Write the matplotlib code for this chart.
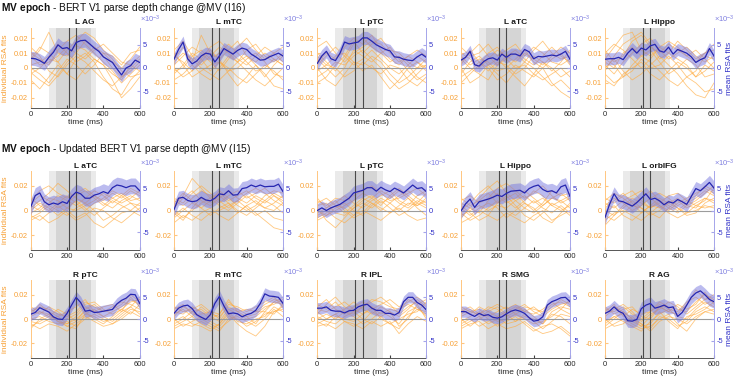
import numpy as np
import matplotlib.pyplot as plt
from matplotlib.ticker import FuncFormatter

plt.rcParams['font.family'] = ['Liberation Sans', 'DejaVu Sans']
plt.rcParams['mathtext.fontset'] = 'custom'
plt.rcParams['mathtext.rm'] = 'Liberation Sans'
plt.rcParams['mathtext.bf'] = 'Liberation Sans:bold'
plt.rcParams['axes.unicode_minus'] = False

# time axes (ms)
t_mean = np.arange(0, 601, 25)
t_ind = np.arange(0, 601, 50)

row_titles = [r'$\mathbf{MV\ epoch}$ - BERT V1 parse depth change @MV (I16)',
              r'$\mathbf{MV\ epoch}$ - Updated BERT V1 parse depth @MV (I15)',
              None]
names_r1 = ['L AG', 'L mTC', 'L pTC', 'L aTC', 'L Hippo']
names_r2 = ['L aTC', 'L mTC', 'L pTC', 'L Hippo', 'L orbIFG']
names_r3 = ['R pTC', 'R mTC', 'R IPL', 'R SMG', 'R AG']

# mean RSA fits (x1e-3), every 25 ms
mean_r1_lag = [2.1, 2.0, 1.6, 1.0, 2.3, 3.4, 5.0, 4.2, 4.4, 3.7, 5.5, 5.9, 6.0, 5.2, 4.3, 3.6, 2.4, 1.8, 1.2, -0.2, -1.5, 0.0, 0.5, 1.7, 1.2]
mean_r1_lmtc = [1.9, 4.0, 5.6, 2.0, 0.9, 1.5, 2.6, 3.2, 3.0, 1.3, 2.6, 4.2, 3.6, 3.0, 3.8, 4.3, 4.0, 3.0, 2.4, 1.7, 1.8, 2.4, 2.8, 3.2, 2.6]
mean_r1_lptc = [1.0, 2.6, 3.6, 2.0, 1.6, 3.2, 5.6, 5.2, 5.4, 5.6, 6.5, 6.5, 5.8, 5.0, 4.5, 4.0, 3.7, 2.4, 2.3, 1.9, 1.7, 1.6, 2.4, 3.0, 2.3]
mean_r1_latc = [1.7, 2.3, 3.6, 0.7, 0.4, 1.4, 2.0, 2.2, 1.7, 3.0, 2.3, 3.0, 3.0, 2.6, 4.0, 3.5, 2.0, 2.5, 2.4, 2.6, 2.8, 2.6, 3.0, 3.6, 1.9]
mean_r1_lhippo = [1.9, 2.0, 2.0, 2.3, 1.8, 3.2, 4.2, 3.2, 4.3, 3.9, 4.8, 5.1, 3.7, 3.4, 4.5, 3.0, 4.0, 3.6, 3.2, 2.4, 1.2, 1.8, 2.2, 4.2, 2.6]

mean_r2_latc = [0.8, 3.4, 4.0, 2.0, 1.3, 1.7, 1.4, 2.0, 1.6, 3.2, 4.2, 3.8, 2.8, 2.8, 3.5, 3.8, 4.3, 3.9, 5.2, 5.8, 5.6, 5.2, 5.6, 5.6, 4.5]
mean_r2_lmtc = [0.2, 2.8, 3.0, 2.3, 2.0, 2.2, 3.0, 2.4, 2.2, 2.8, 3.8, 3.6, 4.5, 3.5, 3.6, 5.0, 5.2, 5.8, 5.4, 5.8, 5.4, 5.5, 5.5, 6.0, 4.3]
mean_r2_lptc = [0.0, 0.6, 0.0, 0.6, 1.0, 1.4, 2.1, 2.8, 4.0, 4.3, 4.6, 5.2, 5.2, 4.4, 5.3, 4.7, 4.3, 5.1, 4.6, 4.0, 4.9, 5.8, 5.0, 5.2, 4.3]
mean_r2_lhippo = [-0.1, 1.5, 2.6, 0.7, 2.0, 2.3, 2.6, 3.0, 3.5, 3.2, 3.9, 4.4, 4.5, 4.6, 4.0, 5.0, 5.5, 5.8, 4.8, 4.3, 4.5, 4.0, 5.4, 5.8, 3.2]
mean_r2_lorbifg = [-1.6, 1.4, 3.8, 2.2, 2.0, 1.5, 1.0, 1.8, 2.8, 3.8, 2.5, 2.8, 2.2, 1.3, 2.0, 1.7, 2.5, 2.0, 1.4, 3.2, 5.0, 4.5, 5.4, 6.4, 5.1]

mean_r3_rptc = [1.1, 1.5, 2.6, 2.1, 1.6, 0.5, 0.0, -0.1, 1.3, 3.2, 5.0, 3.8, 1.8, 2.0, 1.5, 1.6, 1.8, 2.0, 2.2, 3.5, 4.3, 4.8, 5.7, 5.6, 3.6]
mean_r3_rmtc = [1.3, 2.5, 3.0, 3.2, 2.4, 1.0, 0.4, -0.1, 1.0, 3.6, 5.2, 3.0, 1.2, 1.4, 1.2, 0.5, 1.0, 1.3, 2.0, 3.6, 5.8, 5.3, 5.2, 5.0, 3.6]
mean_r3_ripl = [2.5, 2.5, 2.8, 2.0, 1.8, 1.8, 1.4, 1.9, 2.0, 2.8, 3.2, 3.4, 2.5, 2.0, 2.0, 1.3, 1.3, 0.9, 1.5, 4.0, 5.0, 5.0, 3.8, 3.2, 2.1]
mean_r3_rsmg = [1.7, 1.7, 1.1, 0.6, 1.3, 0.8, 1.0, 0.4, 0.2, 0.5, 1.2, 1.8, 2.1, 1.8, 1.3, 0.3, -0.5, -0.3, 0.5, 3.2, 4.0, 4.4, 4.9, 5.0, 4.0]
mean_r3_rag = [1.3, 1.8, 2.8, 1.8, 1.3, -0.4, -0.5, -0.1, 2.4, 3.2, 3.6, 2.5, 2.8, 3.2, 2.6, 2.8, 0.6, 1.5, 3.2, 5.0, 6.0, 6.5, 5.6, 4.5, 4.0]

# standard error of the mean (x1e-3), one per panel
sem_r1 = [1.5, 1.3, 1.4, 1.3, 1.3]
sem_r2 = [1.8, 1.6, 1.6, 1.7, 1.6]
sem_r3 = [1.4, 1.4, 1.3, 1.3, 1.5]

# individual RSA fits (x1e-3), every 50 ms
ind_r1_lag = [
    [5, 12, 24, 10, 8, 15, 12, 6, 2, -4, -8, 2, 8],
    [-3, -8, -12, -5, 4, 10, 18, 14, 8, 0, -6, -2, 4],
    [10, 6, 2, 12, 18, 22, 16, 10, 4, -2, -10, -4, 2],
    [-8, -14, -6, 2, -4, 6, 10, 4, -6, -14, -18, -8, -2],
    [2, 4, 8, 16, 10, 4, 8, 14, 10, 4, 0, 6, 14],
    [14, 8, -2, -6, 2, 8, 4, -2, -8, -12, -6, 0, 6],
    [-4, 0, 6, 4, 12, 18, 24, 20, 12, 6, -2, -6, -4],
    [6, 14, 10, 4, -4, -8, 0, 6, 2, -8, -20, -14, -6],
    [0, -4, -10, -2, 6, 2, -4, 2, 10, 8, 2, 10, 12],
    [8, 2, 4, 8, 14, 10, 6, 12, 16, 10, 4, 2, -2],
]
ind_r1_lmtc = [
    [6, 14, 4, 22, 10, 6, 12, 18, 8, 4, 10, 6, 2],
    [-4, 2, 10, 6, -2, 4, 0, -6, -10, -4, 2, -2, -8],
    [12, 18, 8, 2, 8, 14, 10, 4, 12, 16, 8, 4, 10],
    [0, -6, -2, 4, 12, 6, -4, -12, -6, 2, -4, -12, -14],
    [2, 8, 14, 10, 4, -2, 6, 14, 20, 12, 6, 10, 14],
    [-8, -4, 2, -4, -8, 0, 8, 4, -2, -8, -12, -6, 0],
    [8, 4, -2, 6, 14, 18, 12, 6, 2, 8, 14, 10, 4],
    [4, 10, 6, 0, -4, -8, -2, 4, 8, 2, -6, 2, 8],
    [-2, 0, 8, 12, 6, 10, 16, 10, 4, -2, 0, 6, 2],
    [10, 2, -6, -2, 2, 4, -2, 0, 6, 10, 4, -4, -6],
]
ind_r1_lptc = [
    [4, 10, 6, 14, 20, 16, 22, 12, 6, 2, 8, 4, 0],
    [-6, -2, 4, 2, 8, 12, 6, 0, -8, -14, -10, -4, 2],
    [10, 4, -2, 6, 16, 20, 14, 10, 4, 8, 2, -6, -10],
    [0, -8, -12, -4, 4, 2, 8, 4, -4, -10, -6, 0, 6],
    [14, 18, 10, 4, 10, 14, 18, 16, 10, 4, 8, 12, 8],
    [-2, 2, 8, 10, 4, -2, 2, -6, -14, -8, 0, 4, -2],
    [6, 0, -6, 0, 12, 8, 4, 10, 14, 6, -2, -8, -4],
    [-10, -6, 2, 8, 2, 6, 12, 6, 0, -4, 2, 8, 4],
    [2, 8, 14, 8, 18, 10, 16, 20, 12, 10, 4, 0, 2],
    [8, 2, 0, -6, -2, 4, 0, -4, 2, 0, -8, -12, -6],
]
ind_r1_latc = [
    [4, 10, 16, 8, 2, 6, 10, 4, 12, 18, 10, 6, 8],
    [-6, -2, 4, 0, -8, -4, 2, -2, -6, 0, -10, -16, -20],
    [10, 6, 0, 6, 12, 8, 4, 10, 6, 2, 8, 14, 10],
    [0, -10, -6, 2, 6, 0, -6, -12, -4, 4, 0, -6, -2],
    [14, 8, 10, 16, 8, 12, 16, 8, 14, 10, 4, 2, 6],
    [-4, 4, 8, 2, -4, -10, -2, 4, 0, -6, -12, -8, -14],
    [6, 0, -4, -8, 2, 8, 12, 6, 2, 8, 14, 8, 4],
    [2, 12, 4, -2, 4, 2, -4, 0, 8, 4, -2, 4, 12],
    [-10, -4, 2, 10, 14, 6, 0, 2, -4, -8, -4, 0, -6],
    [8, 2, 6, 4, -2, 0, 6, 12, 4, 0, 6, 10, 2],
]
ind_r1_lhippo = [
    [6, 14, 22, 24, 12, 8, 14, 10, 6, 2, -6, -2, 4],
    [-4, -10, -6, 2, 8, 4, -2, -8, -12, -6, -10, -16, -14],
    [12, 4, 8, 18, 22, 14, 10, 16, 12, 8, 4, 10, 16],
    [0, 6, -2, -8, -4, 2, 8, 2, -4, -12, -18, -20, -10],
    [2, -4, 4, 10, 16, 20, 12, 6, 10, 14, 8, 4, 8],
    [-8, -12, -4, 0, 4, -4, -8, -2, 4, 0, -6, 2, -2],
    [10, 16, 12, 6, 0, 6, 14, 18, 14, 8, 12, 6, 0],
    [4, 0, 10, 14, 8, 12, 4, -4, 0, 6, 2, -6, -4],
    [-2, 8, 16, 20, 24, 16, 6, 10, 18, 12, 6, 10, 12],
    [6, 2, -6, -2, 6, 0, 2, 8, 2, -6, -2, 8, 6],
]

ind_r2_latc = [
    [2, 8, 14, 22, 16, 10, 6, 12, 8, 14, 10, 16, 12],
    [-6, -2, 4, 0, -4, 2, 6, 0, -8, -4, 2, 6, 4],
    [6, 12, 8, 2, 6, 12, 16, 10, 4, 10, 14, 8, 10],
    [-8, -4, -10, -6, 0, -6, -2, -10, -14, -8, -2, 0, -4],
    [4, 0, 6, 12, 8, 4, 10, 16, 12, 6, 12, 18, 14],
    [0, 6, 2, -4, 2, 8, 2, -4, 2, 8, 4, 0, 6],
    [8, 16, 20, 14, 10, 14, 18, 12, 6, 2, 8, 12, 8],
    [-4, -8, -2, 4, -2, -8, -4, 2, 0, -6, -10, -4, 2],
    [10, 4, 0, 6, 12, 6, 0, 6, 10, 16, 12, 6, 0],
    [-2, 2, 10, 8, 2, 0, 4, 8, 14, 10, 6, 10, 16],
]
ind_r2_lmtc = [
    [4, 12, 26, 18, 10, 14, 8, 12, 16, 10, 6, 12, 8],
    [-6, 0, 6, 2, -4, 2, 6, 0, -4, 2, 8, 4, -2],
    [8, 4, 10, 16, 12, 6, 12, 16, 10, 14, 18, 12, 6],
    [-10, -4, -8, -2, 2, -4, -8, -2, 4, -2, -8, -14, -16],
    [2, 10, 16, 8, 4, 10, 16, 10, 6, 12, 8, 14, 10],
    [0, -6, 0, 6, 10, 4, 0, 6, 12, 6, 2, 6, 12],
    [6, 14, 8, 2, 8, 16, 10, 4, 0, 4, 12, 16, 14],
    [-4, 2, -4, -8, -2, 0, 4, 8, 2, -4, 0, -6, -8],
    [10, 6, 14, 20, 14, 8, 2, 8, 14, 18, 14, 8, 4],
    [-2, -8, 2, 10, 6, 12, 6, -2, 4, 8, 2, 0, 6],
]
ind_r2_lptc = [
    [2, -8, -14, -6, 2, 8, 12, 6, 10, 16, 10, 4, 8],
    [-6, -2, 4, 2, -4, 4, 10, 16, 12, 6, 2, 8, 4],
    [6, 10, 4, -2, 4, 10, 6, 0, 6, 12, 16, 10, 6],
    [-4, 0, -6, -10, -4, 0, -4, -8, -2, 2, -4, -8, -6],
    [8, 4, 10, 8, 12, 16, 20, 14, 8, 10, 14, 18, 12],
    [0, -4, 2, 6, 0, -4, 4, 10, 6, 0, 6, 4, 10],
    [-8, -4, 0, 4, 8, 14, 10, 4, 12, 18, 12, 6, 2],
    [4, 6, -2, -4, 2, 6, 2, 8, 2, -4, 0, 6, 14],
    [10, 2, 6, 12, 6, 2, 8, 12, 16, 8, 4, 12, 16],
    [-2, 2, 8, 0, -6, -2, 6, 2, -2, 4, 10, 2, -4],
]
ind_r2_lhippo = [
    [-6, 2, 10, 18, 24, 14, 8, 12, 6, 10, 4, 8, 12],
    [4, -2, -8, -4, 6, 12, 4, -4, -8, -2, 6, 2, -4],
    [8, 12, 6, 10, 18, 22, 16, 10, 14, 20, 12, 6, 10],
    [-10, -6, 0, -4, -8, -2, -6, -10, -4, 0, -8, -4, 0],
    [0, 6, 14, 20, 12, 6, 10, 16, 10, 4, 10, 14, 8],
    [2, -4, 2, 6, 2, -6, 0, 6, 2, -6, -10, -2, 6],
    [6, 2, -2, 8, 14, 8, 2, 8, 16, 12, 4, 0, 4],
    [-4, 0, 4, 0, 4, 2, 8, 2, -2, 4, 10, 8, 2],
    [10, 4, 8, 14, 6, 10, 14, 6, 0, 6, 16, 12, 14],
    [-2, -8, -4, 2, 8, 0, -4, 2, 8, 2, -2, 4, -2],
]
ind_r2_lorbifg = [
    [-12, -4, 4, 10, 6, 2, 8, 4, 0, 6, 10, 16, 12],
    [2, 8, 14, 6, -2, 4, 10, 6, 2, -2, 4, 8, 18],
    [-4, -8, -2, 4, 2, -4, 0, 6, 10, 4, 2, 10, 6],
    [6, 2, 8, 12, 16, 10, 4, 0, 6, 10, 14, 18, 14],
    [-8, -2, 0, -4, -8, -2, 4, -2, -6, -2, 0, 4, 2],
    [4, 10, 6, 0, 4, 10, 14, 10, 4, 8, 12, 20, 16],
    [0, -4, 2, 8, 2, -2, -6, 2, 8, 2, 6, 10, 8],
    [8, 14, 10, 4, 10, 16, 8, 2, -2, 4, 8, 14, 20],
    [-2, 4, -4, -8, -2, 4, 2, 8, 2, -4, -2, 6, 10],
    [10, 6, 12, 16, 8, 2, 6, 12, 14, 8, 4, 2, 4],
]

ind_r3_rptc = [
    [2, 6, 4, -2, -4, 2, 10, 6, 2, 6, 10, 16, 12],
    [-6, -2, 2, 0, -6, -8, 4, 8, 2, -2, 4, 10, 18],
    [6, 10, 8, 4, 2, 6, 14, 10, 6, 10, 14, 12, 8],
    [-4, -8, -4, -6, -10, -4, 2, -2, -6, -4, 0, 6, 2],
    [8, 4, 10, 6, 0, 4, 12, 14, 8, 4, 8, 14, 16],
    [0, 2, -2, -4, -2, -6, 0, 4, 0, -4, 2, 8, 6],
    [4, 12, 6, 2, 6, 10, 16, 6, 10, 12, 6, 18, 10],
    [-2, -4, 0, 2, -4, 0, 6, 0, -4, 2, 8, 4, 12],
    [10, 6, 2, 8, 4, -2, 8, 12, 6, 8, 12, 20, 14],
    [-8, 0, 4, -2, -6, -2, 4, 2, -2, 0, 6, 10, 4],
]
ind_r3_rmtc = [
    [2, 10, 6, 8, 2, -2, 8, 4, 0, 2, 8, 14, 12],
    [-6, -2, 2, -4, -8, -4, 4, -4, -10, -14, -6, 6, 8],
    [6, 4, 10, 6, 0, 4, 14, 8, 4, 6, 12, 16, 14],
    [-8, -4, -6, -2, -6, -10, 0, 2, -2, -6, 0, 8, 2],
    [4, 8, 2, 10, 4, 2, 10, 6, 2, 4, 10, 12, 16],
    [0, -6, -2, 2, -2, -6, 2, 0, -6, -2, 4, 6, 10],
    [10, 6, 8, 12, 6, 0, 12, 10, 6, 10, 14, 18, 10],
    [-2, 2, -4, -6, -10, -4, 6, -2, -4, 0, 2, 10, 6],
    [8, 12, 4, 4, 6, 4, 16, 6, 8, 6, 6, 14, 18],
    [-4, 0, 6, 0, -4, -8, -2, 4, 2, -4, 6, 4, 12],
]
ind_r3_ripl = [
    [4, 12, 18, 10, 6, 10, 14, 18, 12, 4, 10, 14, 8],
    [-4, 0, 4, -2, -6, -2, 6, 2, -4, -8, 2, 8, 4],
    [8, 6, 10, 14, 8, 4, 8, 12, 16, 10, 14, 18, 12],
    [-6, -4, -8, -2, -4, -8, -2, -6, -2, -12, -4, 2, -2],
    [10, 16, 8, 4, 10, 14, 10, 4, 8, 6, 16, 12, 16],
    [0, 4, 0, 6, 2, -4, 0, 6, 2, -4, 6, 10, 2],
    [6, 0, 4, 8, 14, 8, 4, 10, 6, 2, 8, 16, 10],
    [-2, -6, 2, 0, -2, 4, 10, 0, -4, 0, 4, 6, 14],
    [12, 8, 14, 6, 4, 10, 16, 14, 10, 8, 12, 8, 6],
    [2, -2, -4, 2, 6, 0, -4, 2, 6, -6, 0, 12, 0],
]
ind_r3_rsmg = [
    [4, 8, 2, 6, 10, 4, 8, 12, 6, 2, 8, 12, 14],
    [-4, 0, -6, -2, 2, -4, -2, 4, -2, -8, -2, 4, 2],
    [8, 4, 10, 6, 2, 6, 10, 6, 10, 4, 10, 16, 12],
    [-8, -4, -2, -8, -4, -8, -6, -2, -8, -12, -10, -6, -12],
    [2, 6, 8, 2, 6, 10, 4, 8, 2, -4, 6, 10, 8],
    [0, -6, 0, 4, -2, 0, 4, 0, -4, -2, 2, 8, 4],
    [10, 6, 4, 10, 8, 2, 6, 10, 8, 6, 12, 14, 10],
    [-2, 2, 6, 0, -6, -2, 2, -4, -10, -6, -4, -8, -14],
    [6, 10, 4, 8, 12, 8, 12, 6, 4, 8, 14, 8, 16],
    [-6, -2, 2, -4, 0, 4, -2, 2, 0, -4, 4, 2, -4],
]
ind_r3_rag = [
    [4, 10, 6, 0, -6, 2, 10, 6, 4, 12, 24, 16, 18],
    [-4, 2, -2, -6, -10, -2, 4, 8, 2, 0, 8, 14, 10],
    [8, 6, 10, 4, 0, 6, 14, 10, 8, 6, 14, 20, 16],
    [-8, -4, 0, -4, -8, -6, 0, 4, -4, -10, 0, 6, 4],
    [2, 8, 12, 6, -2, 4, 8, 14, 10, 4, 10, 16, 20],
    [0, -6, -4, 2, -4, -8, 2, 0, -6, -2, 6, 10, 6],
    [10, 4, 8, 10, 2, 0, 10, 6, 12, 8, 12, 22, 12],
    [-2, 2, 4, -2, -6, -4, 6, -2, -8, 2, 4, 8, 14],
    [6, 12, 2, 8, 4, 6, 12, 8, 6, 14, 18, 12, 16],
    [-6, 0, 6, 0, -4, -10, -2, 2, 0, -4, 2, 6, 8],
]

rows = [
    (names_r1, [mean_r1_lag, mean_r1_lmtc, mean_r1_lptc, mean_r1_latc, mean_r1_lhippo],
     [ind_r1_lag, ind_r1_lmtc, ind_r1_lptc, ind_r1_latc, ind_r1_lhippo], sem_r1),
    (names_r2, [mean_r2_latc, mean_r2_lmtc, mean_r2_lptc, mean_r2_lhippo, mean_r2_lorbifg],
     [ind_r2_latc, ind_r2_lmtc, ind_r2_lptc, ind_r2_lhippo, ind_r2_lorbifg], sem_r2),
    (names_r3, [mean_r3_rptc, mean_r3_rmtc, mean_r3_ripl, mean_r3_rsmg, mean_r3_rag],
     [ind_r3_rptc, ind_r3_rmtc, ind_r3_ripl, ind_r3_rsmg, ind_r3_rag], sem_r3),
]

# layout / style
W, H = 735, 381
row_px = [(27.7, 108.3), (171, 250), (280, 358)]
col_x0 = [30.7, 174.0, 317.3, 461.0, 605.0]
ax_w = 109.0
ylim_left = [0.027, 0.032, 0.032]
ylim_right = [0.0087, 0.009, 0.009]
yt_left = [[-0.02, -0.01, 0, 0.01, 0.02], [-0.02, 0, 0.02], [-0.02, 0, 0.02]]
title_y = [8, 149]

ORANGE_TXT = '#F7A035'
ORANGE_SPINE = '#FFC680'
ORANGE_LINE = '#FFAA3C'
BLUE_TXT = '#3232C8'
BLUE_SPINE = '#A5A5EA'
BLUE_LINE = '#2626B0'
BAND = '#7878E0'
FS_TICK = 5.4
FS_LAB = 6

fig = plt.figure(figsize=(W / 100, H / 100), dpi=100)

for r, (names, means, inds, sems) in enumerate(rows):
    top_px, bot_px = row_px[r]
    for c in range(5):
        ax = fig.add_axes([col_x0[c] / W, 1 - bot_px / H, ax_w / W, (bot_px - top_px) / H])
        ax.axvspan(100, 360, color='#EAEAEA', lw=0, zorder=0)
        ax.axvspan(140, 330, color='#D5D5D5', lw=0, zorder=0)
        for line in inds[c]:
            ax.plot(t_ind, np.array(line) * 1e-3, color=ORANGE_LINE, lw=0.6, alpha=0.65, zorder=1)
        ax.axhline(0, color='#9C9C9C', lw=0.8, zorder=2)
        ax.set_xlim(0, 600)
        ax.set_ylim(-ylim_left[r], ylim_left[r])
        ax.set_xticks([0, 200, 400, 600])
        ax.set_yticks(yt_left[r])
        ax.yaxis.set_major_formatter(FuncFormatter(lambda v, p: f'{v:g}'))
        ax.tick_params(axis='y', color=ORANGE_SPINE, labelcolor=ORANGE_TXT, labelsize=FS_TICK,
                       direction='in', length=2, pad=2)
        ax.tick_params(axis='x', color='#404040', labelcolor='#262626', labelsize=FS_TICK,
                       direction='in', length=2, pad=2)
        for s in ['top', 'right']:
            ax.spines[s].set_visible(False)
        ax.spines['left'].set_color(ORANGE_SPINE)
        ax.spines['bottom'].set_color('#555555')
        for s in ax.spines.values():
            s.set_linewidth(0.7)

        ax2 = ax.twinx()
        m = np.array(means[c]) * 1e-3
        se = sems[c] * 1e-3
        ax2.fill_between(t_mean, m - se, m + se, color=BAND, alpha=0.5, lw=0, zorder=1)
        ax2.axvline(210, color='#4A4A4A', lw=0.8, zorder=2)
        ax2.axvline(250, color='#4A4A4A', lw=0.8, zorder=2)
        ax2.plot(t_mean, m, color=BLUE_LINE, lw=0.9, zorder=3)
        ax2.set_xlim(0, 600)
        ax2.set_ylim(-ylim_right[r], ylim_right[r])
        ax2.set_yticks([-0.005, 0, 0.005])
        ax2.yaxis.set_major_formatter(FuncFormatter(lambda v, p: f'{v * 1e3:g}'))
        ax2.tick_params(axis='y', color=BLUE_SPINE, labelcolor=BLUE_TXT, labelsize=FS_TICK,
                        direction='in', length=2, pad=2)
        for s in ['top', 'left', 'bottom']:
            ax2.spines[s].set_visible(False)
        ax2.spines['right'].set_color(BLUE_SPINE)
        ax2.spines['right'].set_linewidth(0.7)
        ax2.text(1.0, 1.03, r'$\times10^{-3}$', transform=ax2.transAxes, ha='left', va='bottom',
                 fontsize=FS_TICK, color='#7E7EE0')

        ax.set_title(names[c], fontsize=FS_LAB, fontweight='bold', pad=2.5, color='#1A1A1A')
        if r != 1:
            ax.set_xlabel('time (ms)', fontsize=FS_LAB, labelpad=1, color='#262626')
        if c == 0:
            ax.set_ylabel('individual RSA fits', fontsize=FS_LAB, color=ORANGE_TXT, labelpad=1.5)
        if c == 4:
            ax2.set_ylabel('mean RSA fits', fontsize=FS_LAB, color=BLUE_TXT, labelpad=2)

for k, ttl in enumerate(row_titles):
    if ttl is not None:
        fig.text(0.002, 1 - title_y[k] / H, ttl, fontsize=7.3, ha='left', va='center', color='#111111')

fig.savefig('out.png', dpi=100)
